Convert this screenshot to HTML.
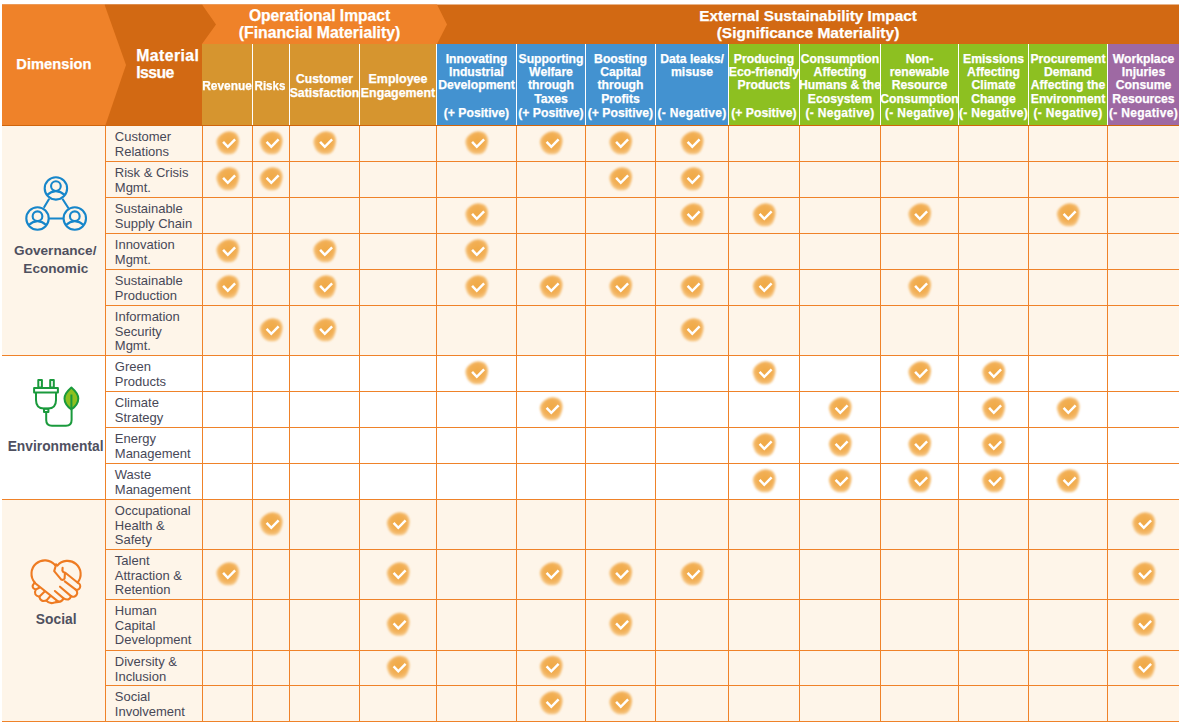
<!DOCTYPE html>
<html><head><meta charset="utf-8"><style>
html,body{margin:0;padding:0;background:#fff;}
body{width:1180px;height:724px;position:relative;overflow:hidden;font-family:"Liberation Sans",sans-serif;}
svg.full{position:absolute;left:0;top:0;}
.t{position:absolute;white-space:nowrap;}
.w{-webkit-text-stroke:0.25px #fff;}
</style></head><body>
<svg class="full" width="1180" height="724" viewBox="0 0 1180 724">
<defs>
<filter id="soft" x="-40%" y="-40%" width="180%" height="180%">
<feGaussianBlur stdDeviation="0.85"/>
</filter>
<radialGradient id="bg" cx="0.52" cy="0.45" r="0.55">
<stop offset="0" stop-color="#F0A946"/>
<stop offset="0.65" stop-color="#F2AF55"/>
<stop offset="1" stop-color="#F6C887"/>
</radialGradient>
<symbol id="chk" overflow="visible">
<g filter="url(#soft)">
<path d="M3.20,-11.30 C4.78,-11.10 6.88,-10.70 8.20,-9.70 C9.52,-8.70 10.55,-6.80 11.10,-5.30 C11.65,-3.80 11.63,-2.28 11.50,-0.70 C11.37,0.88 10.85,2.62 10.30,4.20 C9.75,5.78 9.17,7.62 8.20,8.80 C7.23,9.98 6.30,10.88 4.50,11.30 C2.70,11.72 -0.60,11.78 -2.60,11.30 C-4.60,10.82 -6.27,9.65 -7.50,8.40 C-8.73,7.15 -9.40,5.40 -10.00,3.80 C-10.60,2.20 -11.17,0.32 -11.10,-1.20 C-11.03,-2.72 -10.53,-4.00 -9.60,-5.30 C-8.67,-6.60 -6.88,-8.07 -5.50,-9.00 C-4.12,-9.93 -2.75,-10.52 -1.30,-10.90 C0.15,-11.28 1.62,-11.50 3.20,-11.30Z" fill="url(#bg)"/>
</g>
<polyline points="-4.4,-0.9 0.3,4.1 7.6,-3.3" fill="none" stroke="#fff" stroke-width="2.5"/>
</symbol>
</defs>
<rect x="2" y="4.5" width="1177" height="121" fill="#D26913"/><polygon points="202,4.5 437,4.5 447,24.5 437,44 202,44" fill="#EF8229"/><polygon points="104.5,4.5 202,4.5 216,24.5 202,44 202,125 105.5,125 126,65" fill="#D26913"/><polygon points="2,4.5 104.5,4.5 126,65 105.5,125 2,125" fill="#EF8229"/><rect x="202" y="44" width="234" height="81" fill="#D6952F"/><rect x="436" y="44" width="292" height="81" fill="#4392D0"/><rect x="728" y="44" width="379" height="81" fill="#8DC021"/><rect x="1107" y="44" width="72" height="81" fill="#9E69A3"/><rect x="252" y="44" width="1" height="81" fill="#fff"/><rect x="289" y="44" width="1" height="81" fill="#fff"/><rect x="359" y="44" width="1" height="81" fill="#fff"/><rect x="436" y="44" width="1" height="81" fill="#fff"/><rect x="516" y="44" width="1" height="81" fill="#fff"/><rect x="585" y="44" width="1" height="81" fill="#fff"/><rect x="655" y="44" width="1" height="81" fill="#fff"/><rect x="728" y="44" width="1" height="81" fill="#fff"/><rect x="799" y="44" width="1" height="81" fill="#fff"/><rect x="880" y="44" width="1" height="81" fill="#fff"/><rect x="958" y="44" width="1" height="81" fill="#fff"/><rect x="1028" y="44" width="1" height="81" fill="#fff"/><rect x="1107" y="44" width="1" height="81" fill="#fff"/><rect x="2" y="125" width="1177" height="1" fill="#D0650C"/>
<rect x="2" y="126" width="1177" height="229" fill="#FEF5E9"/><rect x="2" y="356" width="1177" height="143" fill="#FFFFFF"/><rect x="2" y="500" width="1177" height="221" fill="#FEF5E9"/><rect x="105" y="161" width="1074" height="1" fill="#EF8229"/><rect x="105" y="197" width="1074" height="1" fill="#EF8229"/><rect x="105" y="233" width="1074" height="1" fill="#EF8229"/><rect x="105" y="269" width="1074" height="1" fill="#EF8229"/><rect x="105" y="305" width="1074" height="1" fill="#EF8229"/><rect x="2" y="355" width="1177" height="1" fill="#EF8229"/><rect x="105" y="391" width="1074" height="1" fill="#EF8229"/><rect x="105" y="427" width="1074" height="1" fill="#EF8229"/><rect x="105" y="463" width="1074" height="1" fill="#EF8229"/><rect x="2" y="499" width="1177" height="1" fill="#EF8229"/><rect x="105" y="549" width="1074" height="1" fill="#EF8229"/><rect x="105" y="599" width="1074" height="1" fill="#EF8229"/><rect x="105" y="650" width="1074" height="1" fill="#EF8229"/><rect x="105" y="685" width="1074" height="1" fill="#EF8229"/><rect x="2" y="721" width="1177" height="1" fill="#EF8229"/><rect x="105" y="126" width="1" height="596" fill="#EF8229"/><rect x="202" y="126" width="1" height="596" fill="#EF8229"/><rect x="252" y="126" width="1" height="596" fill="#EF8229"/><rect x="289" y="126" width="1" height="596" fill="#EF8229"/><rect x="359" y="126" width="1" height="596" fill="#EF8229"/><rect x="436" y="126" width="1" height="596" fill="#EF8229"/><rect x="516" y="126" width="1" height="596" fill="#EF8229"/><rect x="585" y="126" width="1" height="596" fill="#EF8229"/><rect x="655" y="126" width="1" height="596" fill="#EF8229"/><rect x="728" y="126" width="1" height="596" fill="#EF8229"/><rect x="799" y="126" width="1" height="596" fill="#EF8229"/><rect x="880" y="126" width="1" height="596" fill="#EF8229"/><rect x="958" y="126" width="1" height="596" fill="#EF8229"/><rect x="1028" y="126" width="1" height="596" fill="#EF8229"/><rect x="1107" y="126" width="1" height="596" fill="#EF8229"/>
<use href="#chk" x="227.5" y="142.7"/><use href="#chk" x="271.0" y="142.7"/><use href="#chk" x="324.5" y="142.7"/><use href="#chk" x="476.5" y="142.7"/><use href="#chk" x="551.0" y="142.7"/><use href="#chk" x="620.5" y="142.7"/><use href="#chk" x="692.0" y="142.7"/><use href="#chk" x="227.5" y="178.7"/><use href="#chk" x="271.0" y="178.7"/><use href="#chk" x="620.5" y="178.7"/><use href="#chk" x="692.0" y="178.7"/><use href="#chk" x="476.5" y="214.7"/><use href="#chk" x="692.0" y="214.7"/><use href="#chk" x="764.0" y="214.7"/><use href="#chk" x="919.5" y="214.7"/><use href="#chk" x="1068.0" y="214.7"/><use href="#chk" x="227.5" y="250.7"/><use href="#chk" x="324.5" y="250.7"/><use href="#chk" x="476.5" y="250.7"/><use href="#chk" x="227.5" y="286.7"/><use href="#chk" x="324.5" y="286.7"/><use href="#chk" x="476.5" y="286.7"/><use href="#chk" x="551.0" y="286.7"/><use href="#chk" x="620.5" y="286.7"/><use href="#chk" x="692.0" y="286.7"/><use href="#chk" x="764.0" y="286.7"/><use href="#chk" x="919.5" y="286.7"/><use href="#chk" x="271.0" y="329.7"/><use href="#chk" x="324.5" y="329.7"/><use href="#chk" x="692.0" y="329.7"/><use href="#chk" x="476.5" y="372.7"/><use href="#chk" x="764.0" y="372.7"/><use href="#chk" x="919.5" y="372.7"/><use href="#chk" x="993.5" y="372.7"/><use href="#chk" x="551.0" y="408.7"/><use href="#chk" x="840.0" y="408.7"/><use href="#chk" x="993.5" y="408.7"/><use href="#chk" x="1068.0" y="408.7"/><use href="#chk" x="764.0" y="444.7"/><use href="#chk" x="840.0" y="444.7"/><use href="#chk" x="919.5" y="444.7"/><use href="#chk" x="993.5" y="444.7"/><use href="#chk" x="764.0" y="480.7"/><use href="#chk" x="840.0" y="480.7"/><use href="#chk" x="919.5" y="480.7"/><use href="#chk" x="993.5" y="480.7"/><use href="#chk" x="1068.0" y="480.7"/><use href="#chk" x="271.0" y="523.7"/><use href="#chk" x="398.0" y="523.7"/><use href="#chk" x="1143.5" y="523.7"/><use href="#chk" x="227.5" y="573.7"/><use href="#chk" x="398.0" y="573.7"/><use href="#chk" x="551.0" y="573.7"/><use href="#chk" x="620.5" y="573.7"/><use href="#chk" x="692.0" y="573.7"/><use href="#chk" x="1143.5" y="573.7"/><use href="#chk" x="398.0" y="624.2"/><use href="#chk" x="620.5" y="624.2"/><use href="#chk" x="1143.5" y="624.2"/><use href="#chk" x="398.0" y="667.2"/><use href="#chk" x="551.0" y="667.2"/><use href="#chk" x="1143.5" y="667.2"/><use href="#chk" x="551.0" y="702.7"/><use href="#chk" x="620.5" y="702.7"/>
<g fill="none" stroke="#1786CA" stroke-width="2.1"><circle cx="55.9" cy="188.4" r="11.2"/><circle cx="55.9" cy="186.1" r="4.85"/><path d="M46.9 195.1 Q55.9 187.1 64.9 195.1"/><circle cx="37.5" cy="218.5" r="11.2"/><circle cx="37.5" cy="216.2" r="4.85"/><path d="M28.5 225.2 Q37.5 217.2 46.5 225.2"/><circle cx="74.8" cy="218.5" r="11.2"/><circle cx="74.8" cy="216.2" r="4.85"/><path d="M65.8 225.2 Q74.8 217.2 83.8 225.2"/><path d="M49.2 198.7 L43.8 207.7 M62.4 198.7 L68.5 208.2 M48.9 218.5 L63.4 218.5"/></g><g fill="none" stroke="#1A9A3C" stroke-width="2" stroke-linejoin="round"><rect x="38.3" y="380" width="3.6" height="7.5"/><rect x="50.2" y="380" width="3.6" height="7.5"/><rect x="34.1" y="388" width="23.8" height="4.5"/><path d="M36 392.5 L36 400 Q36 408.5 44 408.5 L48 408.5 Q56 408.5 56 400 L56 392.5"/><rect x="44" y="408.7" width="4.4" height="3.2"/><path d="M46.2 412 L46.2 420 Q46.2 425.8 52 425.8 L66 425.8 Q71.6 425.8 71.6 420 L71.6 410"/><path d="M71.4 387.5 Q78.3 393.5 78.3 398.5 Q78.3 404.5 71.4 409.5 Q64.5 404.5 64.5 398.5 Q64.5 393.5 71.4 387.5 Z" fill="#8DC021"/><path d="M71.4 394.5 L71.4 409"/></g><g fill="none" stroke="#EE7B22" stroke-width="2.1" stroke-linecap="round" stroke-linejoin="round"><path d="M54.9,564.9 A13.3,13.3 0 1 0 34.8,582.5"/><path d="M54.9,564.9 L56.1,564.5 L57.4,565.6 A13,13 0 1 1 77.6,582.4"/><path d="M56.1,564.5 L54.2,571.1 L61.3,579.6 Q63.2,580.6 64.6,578.5 L64.9,573.6"/><path d="M62.6,567.9 L62.4,570.6 Q62.9,572.4 65.3,572.7 L78.1,583 A3.45,3.45 0 0 1 75.4,589.4 L64.8,581.4"/><path d="M75.4,589.4 A3.9,3.9 0 0 1 71,596.1 L60,586.7"/><path d="M71,596.1 Q69.5,601.5 63.6,598.4 L54.9,591"/><path d="M63.6,598.4 Q61,603 56.3,601.3"/><path d="M34.6,582.8 L58.6,601.9"/><path d="M34.6,582.8 Q30.2,587.6 35.6,589.6 Q33.3,595.6 39.3,596.7 Q40.6,602.3 46.3,600.6 Q49.5,604.3 54.5,602.5 L58.6,601.9"/><path d="M35.6,589.6 L39.2,587.8 M39.3,596.7 L44.4,591.8 M46.3,600.6 L50.2,596.3"/></g>
</svg>
<div class="t w" style="top:57.46px;font-size:14.7px;line-height:14.7px;color:#fff;font-weight:bold;left:-46.10px;width:200px;text-align:center;">Dimension</div><div class="t w" style="top:47.53px;font-size:15.8px;line-height:15.8px;color:#fff;font-weight:bold;letter-spacing:0.43px;left:136.20px;">Material</div><div class="t w" style="top:65.33px;font-size:15.8px;line-height:15.8px;color:#fff;font-weight:bold;letter-spacing:-0.55px;left:136.20px;">Issue</div><div class="t w" style="top:7.99px;font-size:15.6px;line-height:15.6px;color:#fff;font-weight:bold;left:189.50px;width:260px;text-align:center;">Operational Impact</div><div class="t w" style="top:24.93px;font-size:15.8px;line-height:15.8px;color:#fff;font-weight:bold;left:189.50px;width:260px;text-align:center;">(Financial Materiality)</div><div class="t w" style="top:8.25px;font-size:15.3px;line-height:15.3px;color:#fff;font-weight:bold;left:608.00px;width:400px;text-align:center;">External Sustainability Impact</div><div class="t w" style="top:25.18px;font-size:15.5px;line-height:15.5px;color:#fff;font-weight:bold;left:608.00px;width:400px;text-align:center;">(Significance Materiality)</div><div class="t w" style="top:80.08px;font-size:12.9px;line-height:12.9px;color:#fff;font-weight:bold;left:187.20px;width:80px;text-align:center;transform:scaleX(0.925);transform-origin:50% 0;">Revenue</div><div class="t w" style="top:80.08px;font-size:12.9px;line-height:12.9px;color:#fff;font-weight:bold;left:229.60px;width:80px;text-align:center;transform:scaleX(0.9);transform-origin:50% 0;">Risks</div><div class="t w" style="top:72.97px;font-size:12.2px;line-height:12.2px;color:#fff;font-weight:bold;left:274.50px;width:100px;text-align:center;">Customer</div><div class="t w" style="top:86.59px;font-size:12.3px;line-height:12.3px;color:#fff;font-weight:bold;left:274.50px;width:100px;text-align:center;">Satisfaction</div><div class="t w" style="top:72.72px;font-size:12.5px;line-height:12.5px;color:#fff;font-weight:bold;left:348.00px;width:100px;text-align:center;">Employee</div><div class="t w" style="top:86.50px;font-size:12.4px;line-height:12.4px;color:#fff;font-weight:bold;left:348.00px;width:100px;text-align:center;">Engagement</div><div class="t w" style="top:52.97px;font-size:12.2px;line-height:12.2px;color:#fff;font-weight:bold;left:416.50px;width:120px;text-align:center;">Innovating</div><div class="t w" style="top:66.07px;font-size:12.2px;line-height:12.2px;color:#fff;font-weight:bold;left:416.50px;width:120px;text-align:center;">Industrial</div><div class="t w" style="top:79.37px;font-size:12.2px;line-height:12.2px;color:#fff;font-weight:bold;left:416.50px;width:120px;text-align:center;">Development</div><div class="t w" style="top:106.67px;font-size:12.2px;line-height:12.2px;color:#fff;font-weight:bold;left:416.50px;width:120px;text-align:center;">(+ Positive)</div><div class="t w" style="top:52.97px;font-size:12.2px;line-height:12.2px;color:#fff;font-weight:bold;left:491.00px;width:120px;text-align:center;">Supporting</div><div class="t w" style="top:66.07px;font-size:12.2px;line-height:12.2px;color:#fff;font-weight:bold;left:491.00px;width:120px;text-align:center;">Welfare</div><div class="t w" style="top:79.37px;font-size:12.2px;line-height:12.2px;color:#fff;font-weight:bold;left:491.00px;width:120px;text-align:center;">through</div><div class="t w" style="top:92.87px;font-size:12.2px;line-height:12.2px;color:#fff;font-weight:bold;left:491.00px;width:120px;text-align:center;">Taxes</div><div class="t w" style="top:106.67px;font-size:12.2px;line-height:12.2px;color:#fff;font-weight:bold;left:491.00px;width:120px;text-align:center;">(+ Positive)</div><div class="t w" style="top:52.97px;font-size:12.2px;line-height:12.2px;color:#fff;font-weight:bold;left:560.50px;width:120px;text-align:center;">Boosting</div><div class="t w" style="top:66.07px;font-size:12.2px;line-height:12.2px;color:#fff;font-weight:bold;left:560.50px;width:120px;text-align:center;">Capital</div><div class="t w" style="top:79.37px;font-size:12.2px;line-height:12.2px;color:#fff;font-weight:bold;left:560.50px;width:120px;text-align:center;">through</div><div class="t w" style="top:92.87px;font-size:12.2px;line-height:12.2px;color:#fff;font-weight:bold;left:560.50px;width:120px;text-align:center;">Profits</div><div class="t w" style="top:106.67px;font-size:12.2px;line-height:12.2px;color:#fff;font-weight:bold;left:560.50px;width:120px;text-align:center;">(+ Positive)</div><div class="t w" style="top:52.97px;font-size:12.2px;line-height:12.2px;color:#fff;font-weight:bold;left:632.00px;width:120px;text-align:center;">Data leaks/</div><div class="t w" style="top:66.07px;font-size:12.2px;line-height:12.2px;color:#fff;font-weight:bold;left:632.00px;width:120px;text-align:center;">misuse</div><div class="t w" style="top:106.84px;font-size:12px;line-height:12px;color:#fff;font-weight:bold;letter-spacing:0.3px;left:632.00px;width:120px;text-align:center;">(- Negative)</div><div class="t w" style="top:52.97px;font-size:12.2px;line-height:12.2px;color:#fff;font-weight:bold;left:704.00px;width:120px;text-align:center;">Producing</div><div class="t w" style="top:66.07px;font-size:12.2px;line-height:12.2px;color:#fff;font-weight:bold;left:704.00px;width:120px;text-align:center;">Eco-friendly</div><div class="t w" style="top:79.37px;font-size:12.2px;line-height:12.2px;color:#fff;font-weight:bold;left:704.00px;width:120px;text-align:center;">Products</div><div class="t w" style="top:106.67px;font-size:12.2px;line-height:12.2px;color:#fff;font-weight:bold;left:704.00px;width:120px;text-align:center;">(+ Positive)</div><div class="t w" style="top:52.97px;font-size:12.2px;line-height:12.2px;color:#fff;font-weight:bold;left:780.00px;width:120px;text-align:center;">Consumption</div><div class="t w" style="top:66.07px;font-size:12.2px;line-height:12.2px;color:#fff;font-weight:bold;left:780.00px;width:120px;text-align:center;">Affecting</div><div class="t w" style="top:79.37px;font-size:12.2px;line-height:12.2px;color:#fff;font-weight:bold;left:780.00px;width:120px;text-align:center;">Humans &amp; the</div><div class="t w" style="top:92.87px;font-size:12.2px;line-height:12.2px;color:#fff;font-weight:bold;left:780.00px;width:120px;text-align:center;">Ecosystem</div><div class="t w" style="top:106.84px;font-size:12px;line-height:12px;color:#fff;font-weight:bold;letter-spacing:0.3px;left:780.00px;width:120px;text-align:center;">(- Negative)</div><div class="t w" style="top:52.97px;font-size:12.2px;line-height:12.2px;color:#fff;font-weight:bold;left:859.50px;width:120px;text-align:center;">Non-</div><div class="t w" style="top:66.07px;font-size:12.2px;line-height:12.2px;color:#fff;font-weight:bold;left:859.50px;width:120px;text-align:center;">renewable</div><div class="t w" style="top:79.37px;font-size:12.2px;line-height:12.2px;color:#fff;font-weight:bold;left:859.50px;width:120px;text-align:center;">Resource</div><div class="t w" style="top:92.87px;font-size:12.2px;line-height:12.2px;color:#fff;font-weight:bold;left:859.50px;width:120px;text-align:center;">Consumption</div><div class="t w" style="top:106.84px;font-size:12px;line-height:12px;color:#fff;font-weight:bold;letter-spacing:0.3px;left:859.50px;width:120px;text-align:center;">(- Negative)</div><div class="t w" style="top:52.97px;font-size:12.2px;line-height:12.2px;color:#fff;font-weight:bold;left:933.50px;width:120px;text-align:center;">Emissions</div><div class="t w" style="top:66.07px;font-size:12.2px;line-height:12.2px;color:#fff;font-weight:bold;left:933.50px;width:120px;text-align:center;">Affecting</div><div class="t w" style="top:79.37px;font-size:12.2px;line-height:12.2px;color:#fff;font-weight:bold;left:933.50px;width:120px;text-align:center;">Climate</div><div class="t w" style="top:92.87px;font-size:12.2px;line-height:12.2px;color:#fff;font-weight:bold;left:933.50px;width:120px;text-align:center;">Change</div><div class="t w" style="top:106.84px;font-size:12px;line-height:12px;color:#fff;font-weight:bold;letter-spacing:0.3px;left:933.50px;width:120px;text-align:center;">(- Negative)</div><div class="t w" style="top:52.97px;font-size:12.2px;line-height:12.2px;color:#fff;font-weight:bold;left:1008.00px;width:120px;text-align:center;">Procurement</div><div class="t w" style="top:66.07px;font-size:12.2px;line-height:12.2px;color:#fff;font-weight:bold;left:1008.00px;width:120px;text-align:center;">Demand</div><div class="t w" style="top:79.37px;font-size:12.2px;line-height:12.2px;color:#fff;font-weight:bold;left:1008.00px;width:120px;text-align:center;">Affecting the</div><div class="t w" style="top:92.87px;font-size:12.2px;line-height:12.2px;color:#fff;font-weight:bold;left:1008.00px;width:120px;text-align:center;">Environment</div><div class="t w" style="top:106.84px;font-size:12px;line-height:12px;color:#fff;font-weight:bold;letter-spacing:0.3px;left:1008.00px;width:120px;text-align:center;">(- Negative)</div><div class="t w" style="top:52.97px;font-size:12.2px;line-height:12.2px;color:#fff;font-weight:bold;left:1083.50px;width:120px;text-align:center;">Workplace</div><div class="t w" style="top:66.07px;font-size:12.2px;line-height:12.2px;color:#fff;font-weight:bold;left:1083.50px;width:120px;text-align:center;">Injuries</div><div class="t w" style="top:79.37px;font-size:12.2px;line-height:12.2px;color:#fff;font-weight:bold;left:1083.50px;width:120px;text-align:center;">Consume</div><div class="t w" style="top:92.87px;font-size:12.2px;line-height:12.2px;color:#fff;font-weight:bold;left:1083.50px;width:120px;text-align:center;">Resources</div><div class="t w" style="top:106.84px;font-size:12px;line-height:12px;color:#fff;font-weight:bold;letter-spacing:0.3px;left:1083.50px;width:120px;text-align:center;">(- Negative)</div><div class="t" style="top:130.00px;font-size:13px;line-height:13px;color:#474857;font-weight:normal;left:114.80px;">Customer</div><div class="t" style="top:144.90px;font-size:13px;line-height:13px;color:#474857;font-weight:normal;left:114.80px;">Relations</div><div class="t" style="top:166.00px;font-size:13px;line-height:13px;color:#474857;font-weight:normal;left:114.80px;">Risk &amp; Crisis</div><div class="t" style="top:180.90px;font-size:13px;line-height:13px;color:#474857;font-weight:normal;left:114.80px;">Mgmt.</div><div class="t" style="top:202.00px;font-size:13px;line-height:13px;color:#474857;font-weight:normal;left:114.80px;">Sustainable</div><div class="t" style="top:216.90px;font-size:13px;line-height:13px;color:#474857;font-weight:normal;left:114.80px;">Supply Chain</div><div class="t" style="top:238.00px;font-size:13px;line-height:13px;color:#474857;font-weight:normal;left:114.80px;">Innovation</div><div class="t" style="top:252.90px;font-size:13px;line-height:13px;color:#474857;font-weight:normal;left:114.80px;">Mgmt.</div><div class="t" style="top:274.00px;font-size:13px;line-height:13px;color:#474857;font-weight:normal;left:114.80px;">Sustainable</div><div class="t" style="top:288.90px;font-size:13px;line-height:13px;color:#474857;font-weight:normal;left:114.80px;">Production</div><div class="t" style="top:310.00px;font-size:13px;line-height:13px;color:#474857;font-weight:normal;left:114.80px;">Information</div><div class="t" style="top:324.50px;font-size:13px;line-height:13px;color:#474857;font-weight:normal;left:114.80px;">Security</div><div class="t" style="top:339.00px;font-size:13px;line-height:13px;color:#474857;font-weight:normal;left:114.80px;">Mgmt.</div><div class="t" style="top:360.00px;font-size:13px;line-height:13px;color:#474857;font-weight:normal;left:114.80px;">Green</div><div class="t" style="top:374.90px;font-size:13px;line-height:13px;color:#474857;font-weight:normal;left:114.80px;">Products</div><div class="t" style="top:396.00px;font-size:13px;line-height:13px;color:#474857;font-weight:normal;left:114.80px;">Climate</div><div class="t" style="top:410.90px;font-size:13px;line-height:13px;color:#474857;font-weight:normal;left:114.80px;">Strategy</div><div class="t" style="top:432.00px;font-size:13px;line-height:13px;color:#474857;font-weight:normal;left:114.80px;">Energy</div><div class="t" style="top:446.90px;font-size:13px;line-height:13px;color:#474857;font-weight:normal;left:114.80px;">Management</div><div class="t" style="top:468.00px;font-size:13px;line-height:13px;color:#474857;font-weight:normal;left:114.80px;">Waste</div><div class="t" style="top:482.90px;font-size:13px;line-height:13px;color:#474857;font-weight:normal;left:114.80px;">Management</div><div class="t" style="top:504.00px;font-size:13px;line-height:13px;color:#474857;font-weight:normal;left:114.80px;">Occupational</div><div class="t" style="top:518.50px;font-size:13px;line-height:13px;color:#474857;font-weight:normal;left:114.80px;">Health &amp;</div><div class="t" style="top:533.00px;font-size:13px;line-height:13px;color:#474857;font-weight:normal;left:114.80px;">Safety</div><div class="t" style="top:554.00px;font-size:13px;line-height:13px;color:#474857;font-weight:normal;left:114.80px;">Talent</div><div class="t" style="top:568.50px;font-size:13px;line-height:13px;color:#474857;font-weight:normal;left:114.80px;">Attraction &amp;</div><div class="t" style="top:583.00px;font-size:13px;line-height:13px;color:#474857;font-weight:normal;left:114.80px;">Retention</div><div class="t" style="top:604.00px;font-size:13px;line-height:13px;color:#474857;font-weight:normal;left:114.80px;">Human</div><div class="t" style="top:618.50px;font-size:13px;line-height:13px;color:#474857;font-weight:normal;left:114.80px;">Capital</div><div class="t" style="top:633.00px;font-size:13px;line-height:13px;color:#474857;font-weight:normal;left:114.80px;">Development</div><div class="t" style="top:655.00px;font-size:13px;line-height:13px;color:#474857;font-weight:normal;left:114.80px;">Diversity &amp;</div><div class="t" style="top:669.90px;font-size:13px;line-height:13px;color:#474857;font-weight:normal;left:114.80px;">Inclusion</div><div class="t" style="top:690.00px;font-size:13px;line-height:13px;color:#474857;font-weight:normal;left:114.80px;">Social</div><div class="t" style="top:704.90px;font-size:13px;line-height:13px;color:#474857;font-weight:normal;left:114.80px;">Involvement</div><div class="t" style="top:244.09px;font-size:13.6px;line-height:13.6px;color:#4F505F;font-weight:bold;left:3.30px;width:104px;text-align:center;">Governance/</div><div class="t" style="top:262.09px;font-size:13.6px;line-height:13.6px;color:#4F505F;font-weight:bold;left:3.80px;width:104px;text-align:center;">Economic</div><div class="t" style="top:439.52px;font-size:13.8px;line-height:13.8px;color:#4F505F;font-weight:bold;left:3.60px;width:104px;text-align:center;">Environmental</div><div class="t" style="top:612.92px;font-size:13.8px;line-height:13.8px;color:#4F505F;font-weight:bold;left:4.20px;width:104px;text-align:center;">Social</div>
</body></html>
